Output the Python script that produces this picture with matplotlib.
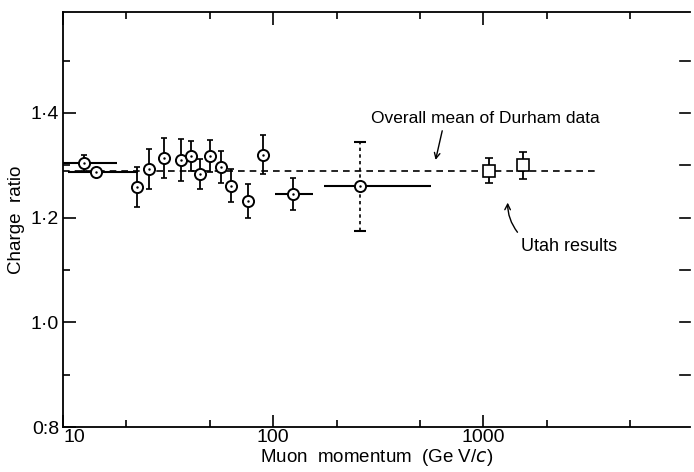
import numpy as np
import matplotlib
matplotlib.use("Agg")
import matplotlib.pyplot as plt

plt.rcParams['font.family'] = ['Liberation Sans', 'DejaVu Sans']

# Durham data (muon momentum GeV/c, charge ratio, error)
p_dur = [12.5, 14.3, 22.5, 25.6, 30.1, 36.4, 40.6, 44.8, 50.0, 56.2, 63.1, 75.5, 89.6, 123.6, 258]
r_dur = [1.305, 1.288, 1.258, 1.293, 1.314, 1.310, 1.318, 1.283, 1.318, 1.297, 1.261, 1.232, 1.320, 1.245, 1.260]
e_dur = [0.015, 0.0, 0.038, 0.038, 0.038, 0.040, 0.028, 0.029, 0.031, 0.030, 0.032, 0.033, 0.037, 0.030, 0.085]
# momentum range of the wide bins
p_lo = [10.0, 10.5, 22.5, 25.6, 30.1, 36.4, 40.6, 44.8, 50.0, 56.2, 63.1, 75.5, 89.6, 102, 174]
p_hi = [18.0, 22.8, 22.5, 25.6, 30.1, 36.4, 40.6, 44.8, 50.0, 56.2, 63.1, 75.5, 89.6, 155, 566]

# Utah results
p_utah = [1064, 1545]
r_utah = [1.290, 1.300]
e_utah = [0.024, 0.026]

mean_r = 1.289
mean_range = [10, 3500]

fig = plt.figure(figsize=(6.94, 4.72), dpi=100)
ax = fig.add_axes([0.091, 0.095, 0.903, 0.88])

ax.plot(mean_range, [mean_r, mean_r], ls=(0, (4, 3)), color='k', lw=1.2)

p = np.array(p_dur)
xerr = [p - np.array(p_lo), np.array(p_hi) - p]
# vertical errors (all but the last, which is dashed)
ax.errorbar(p[:-1], r_dur[:-1], yerr=e_dur[:-1], fmt='none', ecolor='k', elinewidth=1.3, capsize=2, capthick=1.2)
ax.errorbar(p, r_dur, xerr=xerr, fmt='none', ecolor='k', elinewidth=1.5)
eb = ax.errorbar(p[-1:], r_dur[-1:], yerr=e_dur[-1:], fmt='none', ecolor='k', elinewidth=1.2, capsize=4, capthick=1.5)
eb[2][0].set_linestyle((0, (2, 2)))
ax.plot(p, r_dur, 'o', ms=8, mfc='white', mec='k', mew=1.4)
ax.plot(p, r_dur, '.', ms=1.5, color='k')

ax.errorbar(p_utah, r_utah, yerr=e_utah, fmt='s', ms=8, mfc='white', mec='k', mew=1.2,
            ecolor='k', elinewidth=1.3, capsize=3, capthick=1.3)
ax.plot(p_utah, r_utah, '.', ms=1.5, color='k')

ax.set_xscale('log')
ax.set_xlim(10, 9600)
ax.set_ylim(0.8, 1.593)

ax.set_xticks([10, 100, 1000])
ax.set_xticklabels(['10', '100', '1000'])
ax.set_xticks([20, 50, 200, 500, 2000, 5000], minor=True)
ax.xaxis.set_minor_formatter(matplotlib.ticker.NullFormatter())
ax.set_yticks([0.8, 1.0, 1.2, 1.4])
ax.set_yticklabels(['0:8', '1·0', '1·2', '1·4'])
ax.set_yticks([0.9, 1.1, 1.3, 1.5], minor=True)

ax.tick_params(which='major', direction='in', length=9, width=1.2, labelsize=14, top=True, right=False)
ax.tick_params(which='minor', direction='in', length=5, width=1.2, top=True, right=False)
ax.tick_params(axis='y', which='both', pad=3)
ax.tick_params(axis='x', which='both', pad=1)
ax.get_xticklabels()[0].set_horizontalalignment('left')

for s in ['left', 'bottom', 'top']:
    ax.spines[s].set_linewidth(1.3)
ax.spines['right'].set_visible(False)

# short ticks on right edge
for v in [0.9, 1.0, 1.1, 1.2, 1.3, 1.4, 1.5]:
    ax.plot([8600, 9600], [v, v], color='k', lw=1.2, clip_on=False)

ax.set_xlabel(r'Muon  momentum  (Ge V/$c$)', fontsize=13.5, labelpad=1)
ax.set_ylabel('Charge  ratio', fontsize=13.5, labelpad=4)

ax.text(292, 1.389, 'Overall mean of Durham data', fontsize=12.5, va='center', ha='left')
ax.annotate('', xy=(588, 1.305), xytext=(641, 1.371),
            arrowprops=dict(arrowstyle='->', color='k', lw=1.0))
ax.text(1507, 1.145, 'Utah results', fontsize=13, va='center', ha='left')
ax.annotate('', xy=(1306, 1.234), xytext=(1480, 1.168),
            arrowprops=dict(arrowstyle='->', color='k', lw=1.0, connectionstyle='arc3,rad=-0.2'))

fig.savefig('out.png', dpi=100)
